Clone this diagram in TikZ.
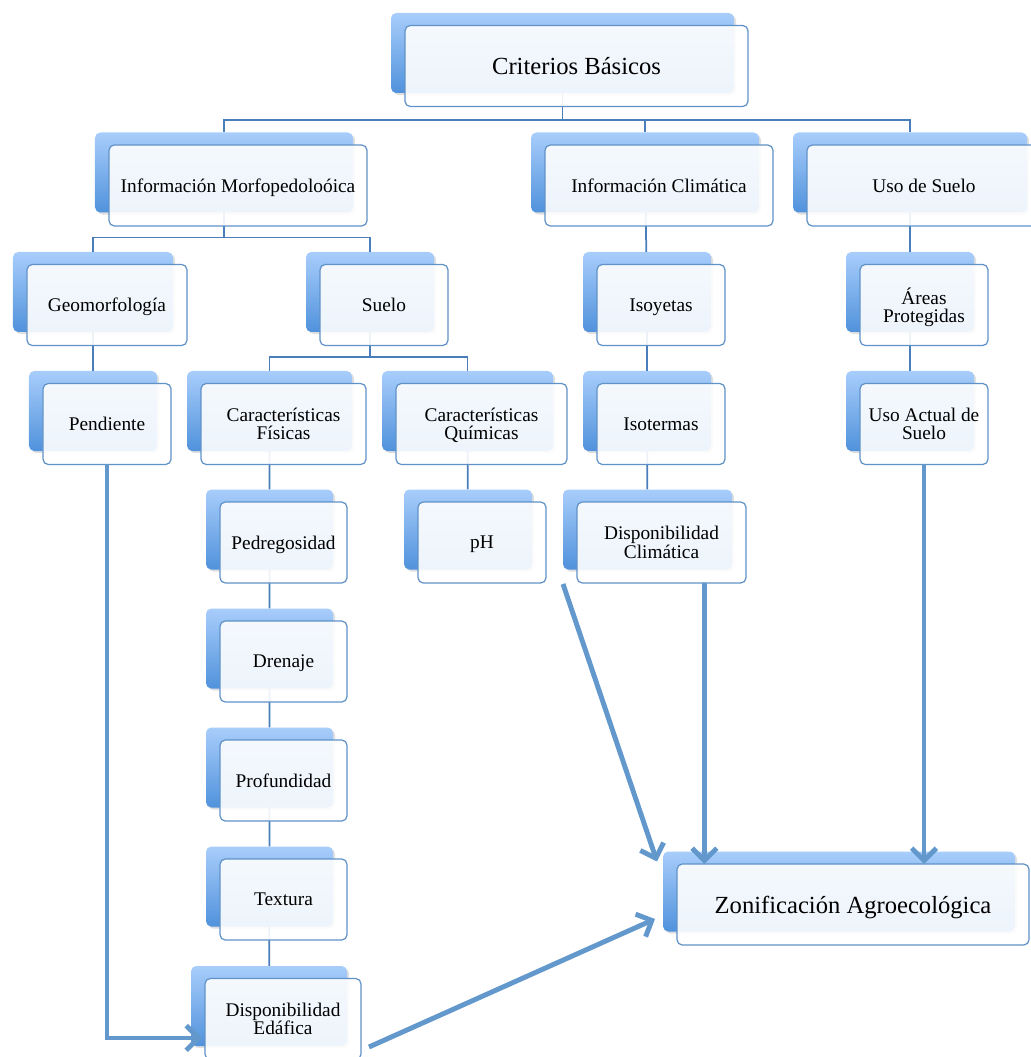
\documentclass[tikz,border=0pt]{standalone}
\usepackage{fontspec}
\setmainfont{Liberation Serif}
\usepackage{tikz}
\usetikzlibrary{calc,shadows,arrows.meta}
\definecolor{azulclaro}{RGB}{168,205,251}
\definecolor{azuloscuro}{RGB}{80,146,220}
\definecolor{borde}{RGB}{96,146,200}
\definecolor{lineazul}{RGB}{74,126,187}
\definecolor{flechazul}{RGB}{99,152,204}
\begin{document}
\begin{tikzpicture}[scale=0.2]
            \tikzstyle{every node}+=[inner sep=0pt, outer sep=0pt]
            \tikzstyle{fondo}=[rectangle, rounded corners=3pt, minimum height=1.6cm, top color=azulclaro, bottom color=azuloscuro, drop shadow={shadow xshift=1.2pt, shadow yshift=-1.2pt, opacity=.25}]
            \tikzstyle{caja}=[rectangle, rounded corners=3pt, minimum height=1.62cm, draw=borde, line width=0.7pt, fill=white, fill opacity=0.9, text opacity=1, align=center, text depth=0pt, font=\fontsize{11}{10.5}\selectfont]
            \tikzstyle{grande}=[font=\fontsize{14}{16}\selectfont]
            \tikzstyle{linea}=[draw=lineazul, line width=1pt]
            \tikzstyle{flecha}=[draw=flechazul, line width=2.8pt, -{Straight Barb[length=7pt,width=14pt]}]
            \useasboundingbox (0,0) rectangle (103,-105.7);
            % fondos
            \node [fondo, minimum width=6.86cm] (crit-b) at (56.25,-5.3) {};
            \node [fondo, minimum width=5.16cm] (morf-b) at (22.4,-17.25) {};
            \node [fondo, minimum width=4.56cm] (clim-b) at (64.5,-17.25) {};
            \node [fondo, minimum width=4.68cm] (uso-b) at (91.0,-17.25) {};
            \node [fondo, minimum width=3.2cm] (geo-b) at (9.3,-29.2) {};
            \node [fondo, minimum width=2.56cm] (suelo-b) at (37,-29.2) {};
            \node [fondo, minimum width=2.56cm] (isoy-b) at (64.7,-29.2) {};
            \node [fondo, minimum width=2.56cm] (areas-b) at (91.0,-29.2) {};
            \node [fondo, minimum width=2.56cm] (pend-b) at (9.3,-41.1) {};
            \node [fondo, minimum width=3.3cm] (fis-b) at (26.95,-41.1) {};
            \node [fondo, minimum width=3.42cm] (quim-b) at (46.75,-41.1) {};
            \node [fondo, minimum width=2.56cm] (isot-b) at (64.7,-41.1) {};
            \node [fondo, minimum width=2.56cm] (actual-b) at (91.0,-41.1) {};
            \node [fondo, minimum width=2.54cm] (pedr-b) at (26.95,-52.95) {};
            \node [fondo, minimum width=2.56cm] (ph-b) at (46.8,-52.95) {};
            \node [fondo, minimum width=3.38cm] (dclim-b) at (64.75,-52.95) {};
            \node [fondo, minimum width=2.54cm] (dren-b) at (26.95,-64.85) {};
            \node [fondo, minimum width=2.54cm] (prof-b) at (26.95,-76.75) {};
            \node [fondo, minimum width=2.54cm] (tex-b) at (26.95,-88.65) {};
            \node [fondo, minimum width=3.12cm] (dedaf-b) at (26.9,-100.6) {};
            \node [fondo, minimum width=7.04cm] (zon-b) at (83.9,-89.15) {};
            % lineas del arbol
            \draw [linea] (crit-b.south) -- ++(0,-2.7) coordinate (bus1);
            \draw [linea] (bus1) -| (morf-b.north);
            \draw [linea] (bus1) -| (clim-b.north);
            \draw [linea] (bus1) -| (uso-b.north);
            \draw [linea] (morf-b.south) -- ++(0,-2.5) coordinate (bus2);
            \draw [linea] (bus2) -| (geo-b.north);
            \draw [linea] (bus2) -| (suelo-b.north);
            \draw [linea] (suelo-b.south) -- ++(0,-2.5) coordinate (bus3);
            \draw [linea] (bus3) -| (fis-b.north);
            \draw [linea] (bus3) -| (quim-b.north);
            \draw [linea] (geo-b) -- (pend-b);
            \draw [linea] (fis-b) -- (pedr-b);
            \draw [linea] (pedr-b) -- (dren-b);
            \draw [linea] (dren-b) -- (prof-b);
            \draw [linea] (prof-b) -- (tex-b);
            \draw [linea] (tex-b) -- (dedaf-b);
            \draw [linea] (quim-b) -- (ph-b);
            \draw [linea] (clim-b) -- (isoy-b);
            \draw [linea] (isoy-b) -- (isot-b);
            \draw [linea] (isot-b) -- (dclim-b);
            \draw [linea] (uso-b) -- (areas-b);
            \draw [linea] (areas-b) -- (actual-b);
            % cajas
            \node [caja, grande, minimum width=6.86cm] (crit) at (57.65,-6.6) {Criterios Básicos};
            \node [caja, minimum width=5.16cm] (morf) at (23.8,-18.55) {Información Morfopedoloóica};
            \node [caja, minimum width=4.56cm] (clim) at (65.9,-18.55) {Información Climática};
            \node [caja, minimum width=4.68cm] (uso) at (92.4,-18.55) {Uso de Suelo};
            \node [caja, minimum width=3.2cm] (geo) at (10.7,-30.5) {Geomorfología};
            \node [caja, minimum width=2.56cm] (suelo) at (38.4,-30.5) {Suelo};
            \node [caja, minimum width=2.56cm] (isoy) at (66.1,-30.5) {Isoyetas};
            \node [caja, minimum width=2.56cm] (areas) at (92.4,-30.5) {Áreas\\Protegidas};
            \node [caja, minimum width=2.56cm] (pend) at (10.7,-42.4) {Pendiente};
            \node [caja, minimum width=3.3cm] (fis) at (28.35,-42.4) {Características\\Físicas};
            \node [caja, minimum width=3.42cm] (quim) at (48.15,-42.4) {Características\\Químicas};
            \node [caja, minimum width=2.56cm] (isot) at (66.1,-42.4) {Isotermas};
            \node [caja, minimum width=2.56cm] (actual) at (92.4,-42.4) {Uso Actual de\\Suelo};
            \node [caja, minimum width=2.54cm] (pedr) at (28.35,-54.25) {Pedregosidad};
            \node [caja, minimum width=2.56cm] (ph) at (48.2,-54.25) {pH};
            \node [caja, minimum width=3.38cm] (dclim) at (66.15,-54.25) {Disponibilidad\\Climática};
            \node [caja, minimum width=2.54cm] (dren) at (28.35,-66.15) {Drenaje};
            \node [caja, minimum width=2.54cm] (prof) at (28.35,-78.05) {Profundidad};
            \node [caja, minimum width=2.54cm] (tex) at (28.35,-89.95) {Textura};
            \node [caja, minimum width=3.12cm] (dedaf) at (28.3,-101.9) {Disponibilidad\\Edáfica};
            \node [caja, grande, minimum width=7.04cm] (zon) at (85.3,-90.45) {Zonificación Agroecológica};
            % flechas
            \draw [flecha] (pend.south) |- ($(dedaf.west)+(-0.3,-1.9)$);
            \draw [flecha] ($(ph.south east)+(1.7,-0.1)$) -- ($(zon-b.north west)+(-0.6,-1.0)$);
            \draw [flecha] ($(dclim.south)+(4.3,0)$) coordinate (dc) -- (dc |- zon.north);
            \draw [flecha] (actual.south) -- (actual.south |- zon.north);
            \draw [flecha] ($(dedaf.east)+(0.8,-2.8)$) -- ($(zon-b.west)+(-0.8,-2.75)$);
          \end{tikzpicture}
\end{document}
